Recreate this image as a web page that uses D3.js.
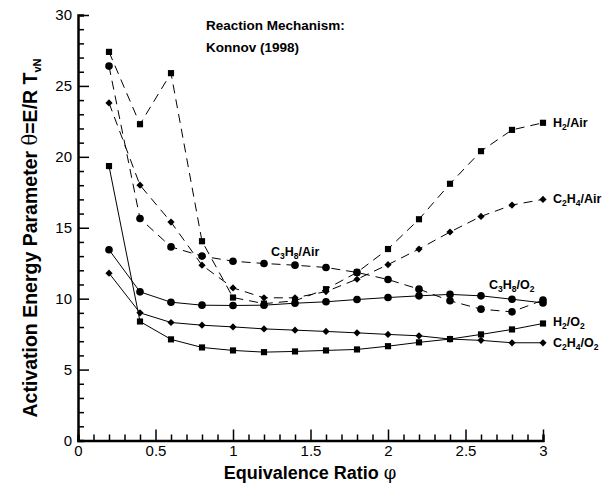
<!DOCTYPE html>
<html><head><meta charset="utf-8">
<script src="https://cdn.jsdelivr.net/npm/d3@7"></script>
<style>body{margin:0;background:#fff}svg{display:block}text{font-family:"Liberation Sans",Arial,sans-serif}</style>
</head><body>
<svg id="c" width="603" height="485"></svg>
<script>
const phi = [0.2,0.4,0.6,0.8,1.0,1.2,1.4,1.6,1.8,2.0,2.2,2.4,2.6,2.8,3.0];
const h2Air   = [27.4,22.3,25.9,14.05,10.08,9.65,9.85,10.67,11.85,13.5,15.6,18.1,20.4,21.9,22.4];
const c2h4Air = [23.8,18.0,15.4,12.36,10.76,10.06,10.06,10.5,11.37,12.4,13.5,14.7,15.8,16.6,17.0];
const c3h8Air = [26.4,15.65,13.65,13.0,12.64,12.48,12.36,12.2,11.85,11.35,10.67,9.85,9.26,9.07,9.9];
const c3h8O2  = [13.45,10.48,9.75,9.54,9.52,9.54,9.68,9.78,9.94,10.08,10.2,10.3,10.2,9.96,9.7];
const h2O2    = [19.35,8.39,7.13,6.56,6.35,6.23,6.28,6.35,6.42,6.65,6.92,7.15,7.48,7.83,8.25];
const c2h4O2  = [11.8,9.0,8.32,8.13,8.01,7.87,7.78,7.69,7.59,7.48,7.38,7.15,7.06,6.89,6.89];
const xTicks = [0,0.5,1,1.5,2,2.5,3];
const yTicks = [0,5,10,15,20,25,30];

const series = [
  {v:h2Air,   dash:true,  m:"square"},
  {v:c2h4Air, dash:true,  m:"diamond"},
  {v:c3h8Air, dash:true,  m:"circle"},
  {v:c3h8O2,  dash:false, m:"circle"},
  {v:h2O2,    dash:false, m:"square"},
  {v:c2h4O2,  dash:false, m:"diamond"}
];

const svg = d3.select("#c");
const x = d3.scaleLinear().domain([0,3]).range([78,543]);
const y = d3.scaleLinear().domain([0,30]).range([440.5,15]);

// axes
const gx = svg.append("g").attr("transform","translate(0,"+y(0)+")");
gx.call(d3.axisBottom(x).tickValues(d3.range(0,3.0001,0.1)).tickSize(-6).tickFormat(""));
gx.call(g=>g.selectAll(".tick line").attr("y2",d=>Math.abs(d*2-Math.round(d*2))<1e-6?-11:-6));
const gxl = svg.append("g").attr("transform","translate(0,"+y(0)+")");
gxl.call(d3.axisBottom(x).tickValues(xTicks).tickSize(0).tickPadding(5).tickFormat(d3.format("")));
gxl.select(".domain").remove();
gxl.selectAll("text").attr("font-size",15).attr("fill","#000").attr("font-family","Liberation Sans, Arial");

const gy = svg.append("g").attr("transform","translate("+x(0)+",0)");
gy.call(d3.axisLeft(y).tickValues(d3.range(0,31,1)).tickSize(-6).tickFormat(""));
gy.call(g=>g.selectAll(".tick line").attr("x2",d=>d%5===0?11:6));
const gyl = svg.append("g").attr("transform","translate("+x(0)+",0)");
gyl.call(d3.axisLeft(y).tickValues(yTicks).tickSize(0).tickPadding(6));
gyl.select(".domain").remove();
gyl.selectAll("text").attr("font-size",15).attr("fill","#000").attr("font-family","Liberation Sans, Arial");

svg.selectAll(".domain").attr("stroke","#000").attr("stroke-width",2.5);
svg.selectAll(".tick line").attr("stroke","#000").attr("stroke-width",1.5);

// lines and markers
const line = d3.line().x((d,i)=>x(phi[i])).y(d=>y(d));
const diamondPath = "M0,-3.6L3.6,0L0,3.6L-3.6,0Z";
const sym = {square:()=>d3.symbol().type(d3.symbolSquare).size(38)(),
             circle:()=>d3.symbol().type(d3.symbolCircle).size(46)(),
             diamond:()=>diamondPath};
series.forEach(s=>{
  svg.append("path").attr("d",line(s.v)).attr("fill","none").attr("stroke","#000")
    .attr("stroke-width",1).attr("stroke-dasharray",s.dash?"9,6":null);
  svg.append("g").selectAll("path").data(s.v).join("path")
    .attr("transform",(d,i)=>"translate("+x(phi[i])+","+y(d)+")")
    .attr("d",sym[s.m]()).attr("fill","#000");
});

// labels
function chem(px,py,arr){
  const t = svg.append("text").attr("x",px).attr("y",py).attr("font-size",12.5).attr("font-weight","bold");
  let sub=false;
  arr.forEach(p=>{
    const isSub = typeof p!=="string";
    const dy = isSub && !sub ? 3 : (!isSub && sub ? -3 : 0);
    t.append("tspan").text(isSub?p.s:p).attr("font-size",isSub?8.5:12.5).attr("dy",dy);
    sub=isSub;
  });
}
chem(553,127,["H",{s:"2"},"/Air"]);
chem(553,203,["C",{s:"2"},"H",{s:"4"},"/Air"]);
chem(271,256,["C",{s:"3"},"H",{s:"8"},"/Air"]);
chem(489,289,["C",{s:"3"},"H",{s:"8"},"/O",{s:"2"}]);
chem(553,326,["H",{s:"2"},"/O",{s:"2"}]);
chem(553,347,["C",{s:"2"},"H",{s:"4"},"/O",{s:"2"}]);

svg.append("text").attr("x",206).attr("y",30).attr("font-size",13.5).attr("font-weight","bold").text("Reaction Mechanism:");
svg.append("text").attr("x",206).attr("y",52).attr("font-size",13.5).attr("font-weight","bold").text("Konnov (1998)");

// axis titles
const xt = svg.append("text").attr("x",310).attr("y",479).attr("text-anchor","middle").attr("font-size",18).attr("font-weight","bold");
xt.append("tspan").text("Equivalence Ratio ");
xt.append("tspan").text("φ").attr("font-weight","normal").attr("font-family","DejaVu Serif");

const yt = svg.append("text").attr("transform","translate(37,238) rotate(-90)").attr("text-anchor","middle").attr("font-size",19.5).attr("font-weight","bold");
yt.append("tspan").text("Activation Energy Parameter ");
yt.append("tspan").text("θ").attr("font-weight","normal").attr("font-family","DejaVu Serif");
yt.append("tspan").text("=E/R T");
yt.append("tspan").text("vN").attr("font-size",11).attr("dy",4);
</script>
</body></html>
